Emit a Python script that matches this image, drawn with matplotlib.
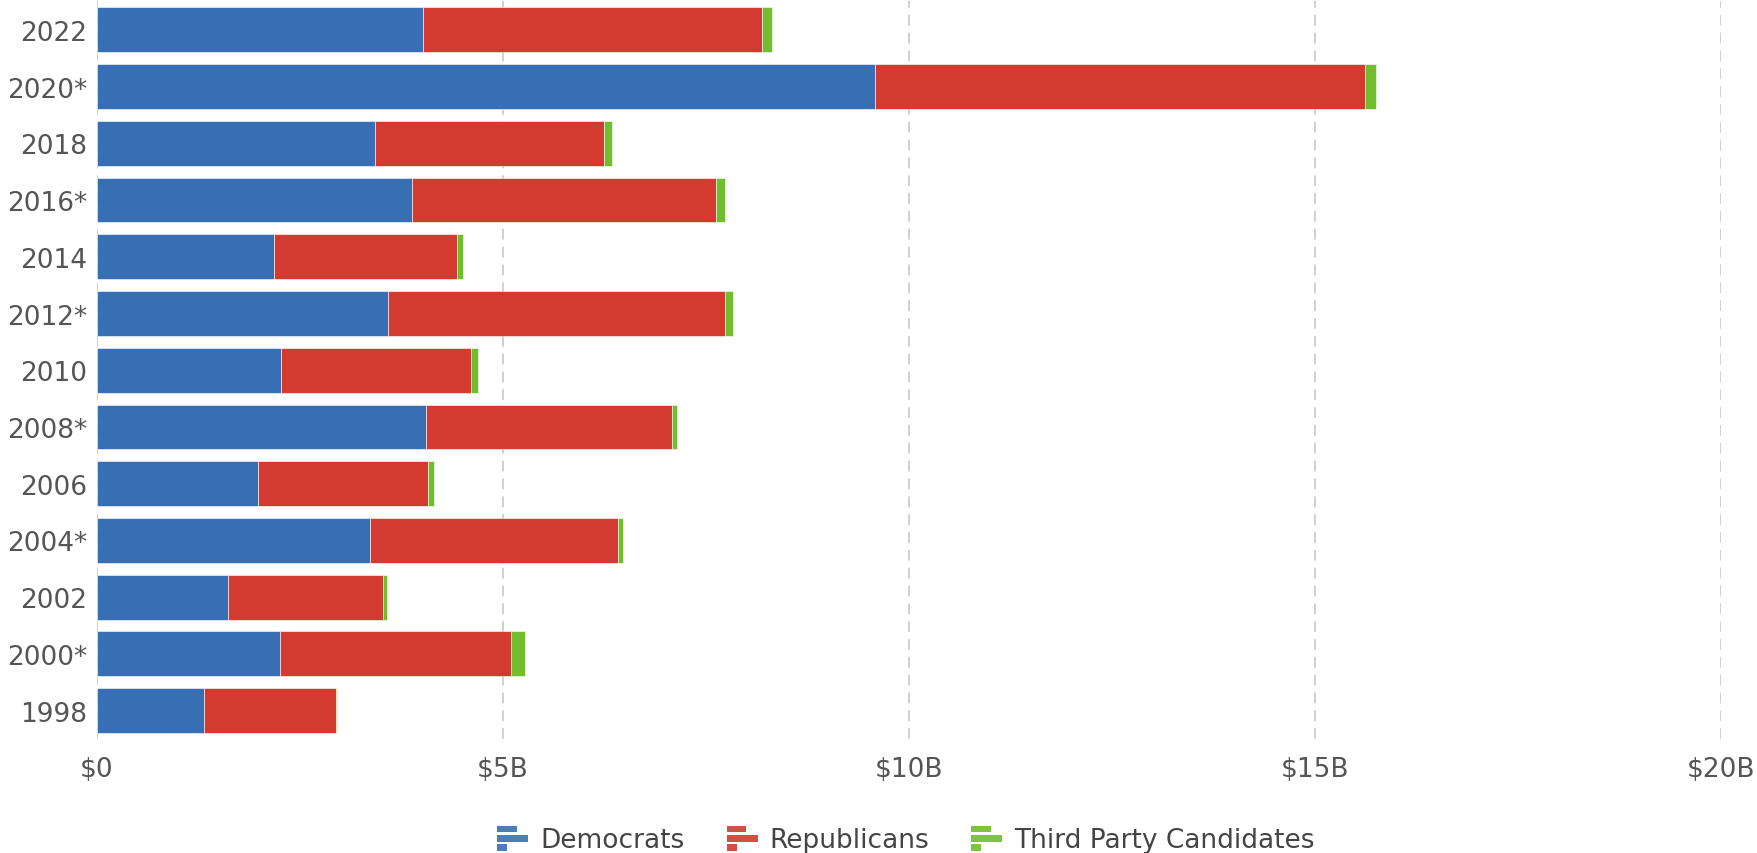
import matplotlib
matplotlib.use("Agg")
import matplotlib.pyplot as plt
from matplotlib.patches import Rectangle
from matplotlib.legend_handler import HandlerBase
from matplotlib.ticker import MultipleLocator, FuncFormatter

# election cycles, newest first (as listed top to bottom)
cycles = ["2022", "2020*", "2018", "2016*", "2014", "2012*", "2010",
          "2008*", "2006", "2004*", "2002", "2000*", "1998"]

# spending in billions of dollars
democrats = [4.02, 9.58, 3.43, 3.88, 2.18, 3.59, 2.27, 4.05, 1.98, 3.36, 1.62, 2.25, 1.32]
republicans = [4.17, 6.04, 2.82, 3.75, 2.26, 4.14, 2.34, 3.03, 2.10, 3.06, 1.90, 2.85, 1.62]
third_party = [0.13, 0.13, 0.10, 0.10, 0.07, 0.10, 0.09, 0.06, 0.07, 0.06, 0.05, 0.17, 0.02]

series = ["Democrats", "Republicans", "Third Party Candidates"]
colors = ["#386FB4", "#D33A30", "#70BE2D"]


class BarIconHandler(HandlerBase):
    # little three-bar icon used for the legend keys
    def create_artists(self, legend, orig_handle, xdescent, ydescent,
                       width, height, fontsize, trans):
        c = orig_handle.get_facecolor()
        bh = height * 0.27
        gap = (height - 3 * bh) / 2
        x = -xdescent
        y0 = -ydescent
        rects = [
            Rectangle((x, y0 + 2 * (bh + gap)), width * 0.62, bh),
            Rectangle((x, y0 + bh + gap), width, bh),
            Rectangle((x, y0), width * 0.32, bh),
        ]
        for r in rects:
            r.set_facecolor(c)
            r.set_alpha(0.9)
            r.set_edgecolor("none")
            r.set_transform(trans)
        return rects


fig = plt.figure(figsize=(17.57, 8.54), dpi=100)
ax = fig.add_axes([0.0551, 0.1335, 0.9244, 0.8636])

ypos = list(range(len(cycles)))[::-1]
left = [0.0] * len(cycles)
handles = []
for name, vals, col in zip(series, [democrats, republicans, third_party], colors):
    bars = ax.barh(ypos, vals, left=left, height=0.79, color=col,
                   edgecolor="white", linewidth=0.4, label=name, zorder=3)
    handles.append(bars[0])
    left = [a + b for a, b in zip(left, vals)]

ax.set_xlim(0, 20)
ax.set_ylim(-0.5, len(cycles) - 0.5)
ax.set_yticks(ypos)
ax.set_yticklabels(cycles)

ax.xaxis.set_major_locator(MultipleLocator(5))
ax.xaxis.set_major_formatter(FuncFormatter(lambda v, p: "$0" if v == 0 else "${:g}B".format(v)))

ax.grid(axis="x", color="#c8c8c8", linewidth=1.2, linestyle=(0, (6.5, 4.2)), zorder=0)
ax.set_axisbelow(True)
for s in ax.spines.values():
    s.set_visible(False)

ax.tick_params(axis="y", length=0, pad=7, labelsize=19, labelcolor="#555555")
ax.tick_params(axis="x", length=0, pad=12, labelsize=19, labelcolor="#555555")

leg = fig.legend(handles, series, loc="center", bbox_to_anchor=(0.5157, 0.016),
                 ncol=3, frameon=False, fontsize=19, handler_map={h: BarIconHandler() for h in handles},
                 handlelength=1.17, handleheight=1.1, handletextpad=0.45,
                 columnspacing=1.6, borderpad=0, borderaxespad=0)
for t in leg.get_texts():
    t.set_color("#444444")

fig.savefig("out.png", dpi=100)
